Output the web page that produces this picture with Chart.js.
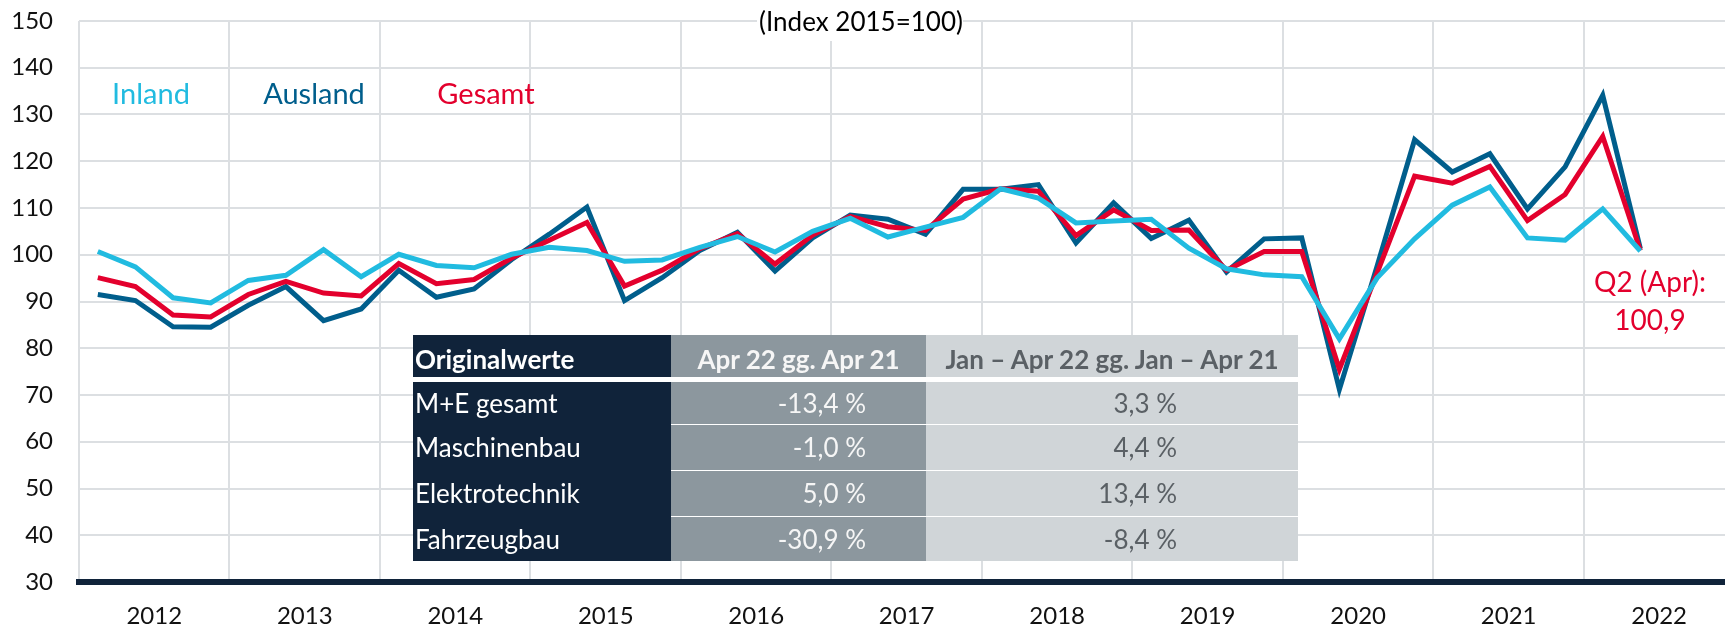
<!DOCTYPE html>
<html>
<head>
<meta charset="utf-8">
<script src="https://cdn.jsdelivr.net/npm/chart.js@4.4.0/dist/chart.umd.min.js"></script>
<style>
    html, body { margin: 0; padding: 0; background: #fff; }
    #wrap { position: relative; width: 1725px; height: 628px; overflow: hidden; }
    #wrap canvas { position: absolute; left: 0; top: 0; }
    #tbl { position: absolute; left: 413px; top: 335px; font-family: Lato, "Open Sans", sans-serif; font-size: 26px; }
    #tbl .row { display: flex; box-sizing: border-box; }
    #tbl .cell { box-sizing: border-box; display: flex; align-items: center; white-space: nowrap; height: 100%; }
    #tbl .c1 { width: 258px; background: #10233a; color: #fff; padding-left: 2px; }
    #tbl .c2 { width: 255px; background: #8c979e; color: #f6f6f6; justify-content: flex-end; padding-right: 60px; }
    #tbl .c3 { width: 372px; background: #d0d5d8; color: #5a6065; justify-content: flex-end; padding-right: 121px; }
    #tbl .head .cell { font-weight: bold; border-bottom: 5px solid #fff; padding-top: 6px; }
    #tbl .head .c2, #tbl .head .c3 { justify-content: center; padding-right: 0; }
    #tbl .body .c1 { border-top: 1px solid #10233a; }
    #tbl .body .c2, #tbl .body .c3 { border-top: 1px solid #fff; }
</style>
</head>
<body>
<div id="wrap">
    <canvas id="myChart" width="1725" height="628"></canvas>
    <div id="tbl"></div>
</div>
<script>
const years = ['2012', '2013', '2014', '2015', '2016', '2017', '2018', '2019', '2020', '2021', '2022'];

// Quartalswerte 2012 Q1 - 2022 Q2, Index 2015=100
const inland = [100.7, 97.4, 90.8, 89.7, 94.5, 95.6, 101.1, 95.3, 100.1, 97.7, 97.2, 100.1,
    101.6, 100.9, 98.6, 98.9, 101.6, 103.9, 100.6, 105.0, 107.8, 103.8, 105.9, 108.0,
    114.1, 112.1, 106.8, 107.2, 107.6, 101.4, 97.0, 95.7, 95.3, 82.0, 95.0, 103.4,
    110.6, 114.5, 103.6, 103.1, 109.8, 100.8];
const ausland = [91.5, 90.2, 84.6, 84.5, 89.2, 93.2, 85.9, 88.4, 96.7, 90.9, 92.7, 99.0,
    104.4, 110.2, 90.2, 95.1, 100.9, 104.8, 96.5, 103.6, 108.5, 107.6, 104.4, 114.0,
    114.0, 115.0, 102.5, 111.1, 103.5, 107.4, 96.3, 103.4, 103.6, 71.2, 97.5, 124.6,
    117.7, 121.6, 109.8, 118.8, 134.1, 101.3];
const gesamt = [95.1, 93.2, 87.1, 86.7, 91.5, 94.3, 91.8, 91.2, 98.1, 93.8, 94.7, 99.3,
    103.1, 106.9, 93.3, 96.7, 101.3, 104.5, 98.0, 104.2, 108.2, 106.0, 105.2, 111.9,
    114.1, 113.6, 104.1, 109.6, 105.2, 105.3, 96.7, 100.7, 100.7, 75.5, 96.0, 116.8,
    115.3, 118.9, 107.3, 112.9, 125.3, 100.9];

const tableHead = ['Originalwerte', 'Apr 22 gg. Apr 21', 'Jan – Apr 22 gg. Jan – Apr 21'];
const tableRows = ['M+E gesamt', 'Maschinenbau', 'Elektrotechnik', 'Fahrzeugbau'];
const aprChange = [-13.4, -1.0, 5.0, -30.9];
const ytdChange = [3.3, 4.4, 13.4, -8.4];

const FONT = 'Lato, "Open Sans", sans-serif';
const gridColor = '#dcdfe2';
const navy = '#10233a';

function pct(v) {
    return v.toFixed(1).replace('.', ',') + ' %';
}

function buildTable() {
    const heights = [42.3, 46, 46, 44.7];
    let html = '<div class="row head" style="height:46.7px">' +
        '<div class="cell c1">' + tableHead[0] + '</div>' +
        '<div class="cell c2">' + tableHead[1] + '</div>' +
        '<div class="cell c3">' + tableHead[2] + '</div></div>';
    for (let i = 0; i < tableRows.length; i++) {
        const noTop = i === 0 ? ' style="border-top:0"' : '';
        html += '<div class="row body" style="height:' + heights[i] + 'px">' +
            '<div class="cell c1"' + noTop + '>' + tableRows[i] + '</div>' +
            '<div class="cell c2"' + noTop + '>' + pct(aprChange[i]) + '</div>' +
            '<div class="cell c3"' + noTop + '>' + pct(ytdChange[i]) + '</div></div>';
    }
    document.getElementById('tbl').innerHTML = html;
}

const notes = {
    id: 'notes',
    afterDatasetsDraw(chart) {
        const ctx = chart.ctx;
        ctx.save();
        ctx.textAlign = 'center';
        ctx.textBaseline = 'middle';

        // Titel mit weissem Hintergrund
        ctx.fillStyle = '#fff';
        ctx.fillRect(757, 3, 206, 38);
        ctx.fillStyle = '#000';
        ctx.font = '26px ' + FONT;
        ctx.fillText('(Index 2015=100)', 861, 23);

        ctx.font = '29px ' + FONT;
        ctx.fillStyle = '#21bbe0';
        ctx.fillText('Inland', 151, 95);
        ctx.fillStyle = '#005e8c';
        ctx.fillText('Ausland', 314, 95);
        ctx.fillStyle = '#e3002d';
        ctx.fillText('Gesamt', 486, 95);

        ctx.font = '28px ' + FONT;
        ctx.fillText('Q2 (Apr):', 1650, 283);
        ctx.fillText(gesamt[gesamt.length - 1].toFixed(1).replace('.', ','), 1650, 321);
        ctx.restore();
    }
};

function series(label, values, color) {
    return {
        label: label,
        data: values.map((v, i) => ({ x: i + 0.5, y: v })),
        borderColor: color,
        backgroundColor: color,
        borderWidth: 5,
        borderJoinStyle: 'miter',
        pointRadius: 0,
        tension: 0,
        fill: false
    };
}

buildTable();

var ctx = document.getElementById('myChart').getContext('2d');
var myChart = new Chart(ctx, {
    type: 'line',
    data: {
        datasets: [
            series('Inland', inland, '#21bbe0'),
            series('Gesamt', gesamt, '#e3002d'),
            series('Ausland', ausland, '#005e8c')
        ]
    },
    plugins: [notes],
    options: {
        responsive: false,
        animation: false,
        devicePixelRatio: 1,
        layout: { padding: { top: 21, left: 0, right: 0, bottom: 0 } },
        plugins: {
            legend: { display: false },
            tooltip: { enabled: false }
        },
        scales: {
            x: {
                type: 'linear',
                min: 0,
                max: 43.75,
                afterBuildTicks: (scale) => {
                    const t = [];
                    for (let v = 0; v <= 42; v += 2) t.push({ value: v });
                    scale.ticks = t;
                },
                afterFit: (scale) => {
                    scale.height = 46;
                    scale.paddingLeft = 0;
                    scale.paddingRight = 0;
                },
                grid: {
                    color: (c) => (c.tick && c.tick.value % 4 === 0) ? gridColor : 'rgba(0,0,0,0)',
                    lineWidth: 2,
                    drawTicks: false
                },
                border: { display: true, color: navy, width: 6 },
                ticks: {
                    autoSkip: false,
                    maxRotation: 0,
                    padding: 20,
                    color: '#111',
                    font: { family: FONT, size: 24 },
                    callback: (v) => v % 4 === 2 ? years[(v - 2) / 4] : ''
                }
            },
            y: {
                min: 30,
                max: 150,
                afterFit: (scale) => {
                    scale.width = 79;
                    scale.paddingTop = 0;
                    scale.paddingBottom = 0;
                },
                grid: {
                    color: (c) => (c.tick && c.tick.value === 30) ? 'rgba(0,0,0,0)' : gridColor,
                    lineWidth: 2,
                    drawTicks: false
                },
                border: { display: false },
                ticks: {
                    stepSize: 10,
                    padding: 26,
                    color: '#111',
                    font: { family: FONT, size: 24 }
                }
            }
        }
    }
});
</script>
</body>
</html>
